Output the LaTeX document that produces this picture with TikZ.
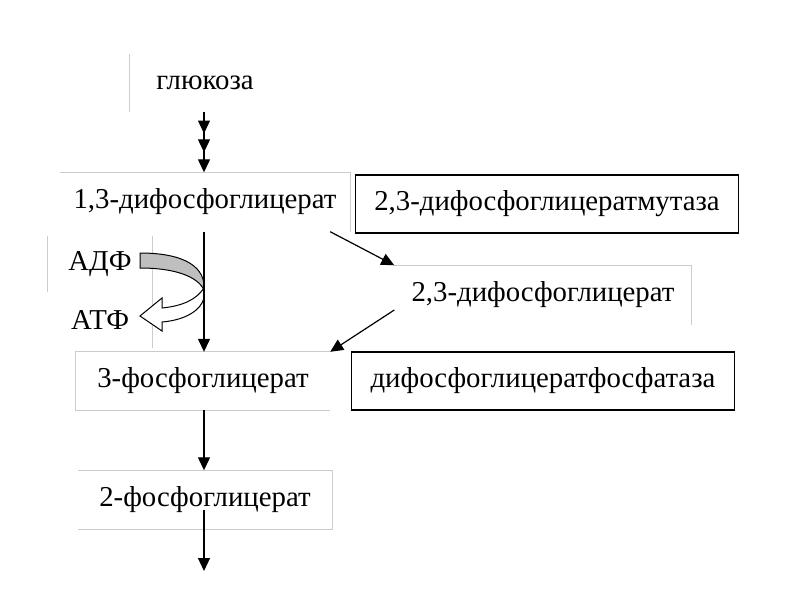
\documentclass[tikz,border=0pt]{standalone}
\usepackage{fontspec}
\setmainfont{Liberation Serif}
\usetikzlibrary{arrows.meta,decorations.markings}

\begin{document}
\begin{tikzpicture}[x=1pt,y=-1pt]
%
% Styles
%
\tikzset{every node/.style={font=\fontsize{28.8}{34}\selectfont, inner sep=0pt}};%
\tikzset{fleche/.style={-{Triangle[length=13pt,width=12pt]}, line width=1.2pt}};%
\tikzset{boite/.style={minimum width=254pt, minimum height=58pt}};%
\tikzset{cadre/.style={draw, line width=1.3pt, minimum width=383pt, minimum height=58pt}};%
\tikzset{bord/.style={black!20, line width=0.8pt}};%
\tikzset{triple/.style={fleche, postaction={decorate}, decoration={markings,%
    mark=at position 0.36 with {\arrow{Triangle[length=13pt,width=12pt]}},%
    mark=at position 0.67 with {\arrow{Triangle[length=13pt,width=12pt]}}}}};%

\useasboundingbox (0,0) rectangle (800,600);%

%
% Substrates
%
\node[boite, minimum width=150pt, minimum height=57pt] (glu) at (205,83) {глюкоза};%
\node[boite, minimum width=290pt, minimum height=59pt] (dpg13) at (205,202) {1,3-дифосфоглицерат};%
\node[boite, minimum width=105pt, minimum height=55pt] (adp) at (100,264) {АДФ};%
\node[boite, minimum width=105pt, minimum height=56pt] (atp) at (100,320) {АТФ};%
\node[boite] (pg3) at (203,381) {3-фосфоглицерат};%
\node[boite, minimum height=59pt] (pg2) at (205,500) {2-фосфоглицерат};%
\node[boite, minimum width=297pt, minimum height=59pt] (dpg23) at (543,295) {2,3-дифосфоглицерат};%
\coordinate (pg2s) at (204,510);%
\coordinate (fin) at (204,571);%

%
% Enzymes
%
\node[cadre] (mutase) at (547,204) {2,3-дифосфоглицератмутаза};%
\node[cadre] (fosfatase) at (543,381) {дифосфоглицератфосфатаза};%

%
% Faint edges of the text boxes
%
\draw[bord] (glu.north west) -- (glu.south west);%
\draw[bord] (dpg13.north west) -- (dpg13.north east) -- (dpg13.south east);%
\draw[bord] (adp.north west) -- (adp.south west);%
\draw[bord] (adp.north east) -- (atp.south east);%
\draw[bord] (pg3.north east) -- (pg3.north west) -- (pg3.south west) -- (pg3.south east);%
\draw[bord] (pg2.north west) -- (pg2.north east) -- (pg2.south east) -- (pg2.south west);%
\draw[bord] (dpg23.north west) -- (dpg23.north east) -- (dpg23.south east);%

% ADP -> ATP curved arrow
\draw[line width=1pt, fill=black!25] (140,253) .. controls (186,253) and (206,268) .. (204,290)
    .. controls (198,277) and (176,268) .. (140,268) -- cycle;%
\draw[line width=1pt, fill=white] (204,288) .. controls (196,300) and (182,306) .. (162,308)
    -- (162,298) -- (140,316) -- (162,331) -- (162,322)
    .. controls (186,320) and (201,310) .. (204,298) -- cycle;%

%
% Connectors
%
\draw[triple] (glu.south -| 204,0) -- (dpg13.north -| 204,0);%
\draw[fleche] (dpg13.south -| 204,0) -- (pg3.north -| 204,0);%
\draw[fleche] (pg3.south -| 204,0) -- (pg2.north -| 204,0);%
\draw[fleche] (pg2s) -- (fin);%
\draw[fleche] ([xshift=-20pt]dpg13.south east) -- (dpg23.north west);%
\draw[fleche] ([yshift=-15pt]dpg23.west) -- (pg3.north east);%
\end{tikzpicture}
\end{document}
